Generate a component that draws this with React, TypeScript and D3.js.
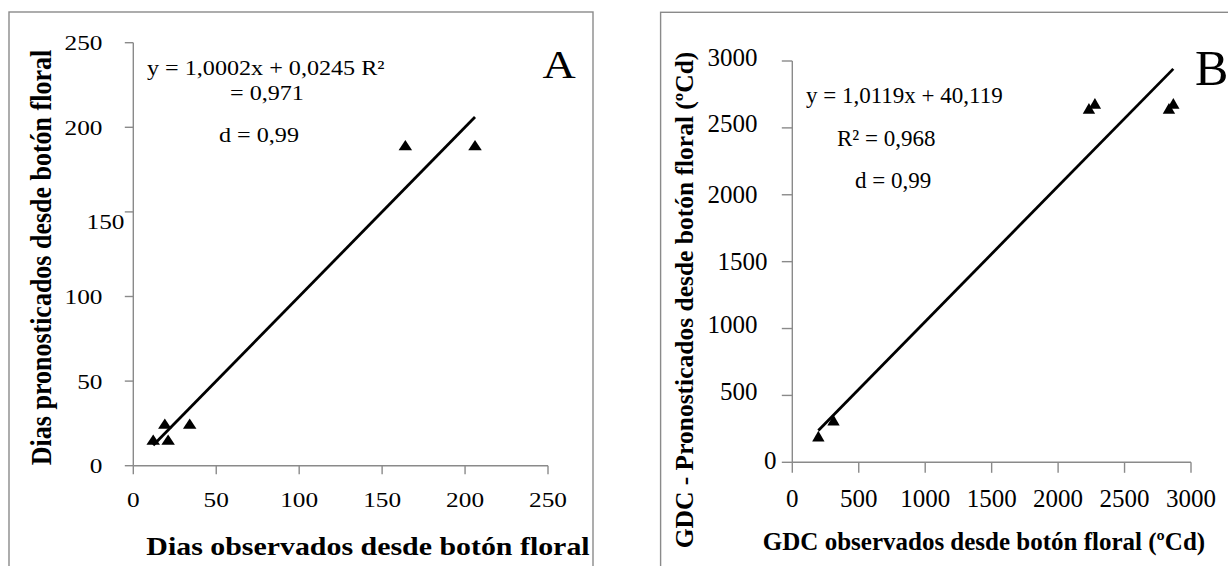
import React from "react";
import * as d3 from "d3";

// ---------- data ----------
const A_TICKS = [0, 50, 100, 150, 200, 250];
const A_OBS = [12, 19, 21, 34, 164, 206];
const A_PRED = [15, 24.5, 15, 24.5, 189, 189];
const A_SLOPE = 1.0002;
const A_INTERCEPT = 0.0245;
const A_EQ = ["y = 1,0002x + 0,0245 R²", "= 0,971", "d = 0,99"];
const A_XTITLE = "Dias observados desde botón floral";
const A_YTITLE = "Dias pronosticados desde botón floral";

const B_TICKS = [0, 500, 1000, 1500, 2000, 2500, 3000];
const B_OBS = [196, 310, 2232, 2277, 2834, 2867];
const B_PRED = [190, 310, 2640, 2677, 2640, 2677];
const B_SLOPE = 1.0119;
const B_INTERCEPT = 40.119;
const B_EQ = ["y = 1,0119x + 40,119", "R² = 0,968", "d = 0,99"];
const B_XTITLE = "GDC observados desde botón floral (ºCd)";
const B_YTITLE = "GDC - Pronosticados desde botón floral (ºCd)";

const FONT = "'Liberation Serif', 'Times New Roman', Times, serif";
const AXIS = "#8a8a8a";

type TP = {
  x: number;
  y: number;
  size: number;
  sx?: number;
  anchor?: string;
  bold?: boolean;
  rot?: boolean;
  children: React.ReactNode;
};
function T({ x, y, size, sx = 1, anchor = "start", bold, rot, children }: TP) {
  return (
    <text
      transform={`translate(${x},${y}) scale(${sx},1)${rot ? " rotate(-90)" : ""}`}
      fontFamily={FONT}
      fontSize={size}
      fontWeight={bold ? "bold" : "normal"}
      textAnchor={anchor}
      fill="#000"
    >
      {children}
    </text>
  );
}

export default function App() {
  // Panel A
  const SA = 1.15;
  const ax = d3.scaleLinear().domain([0, 250]).range([133.3, 548]);
  const ay = d3.scaleLinear().domain([0, 250]).range([465.7, 42.7]);
  // Panel B
  const bx = d3.scaleLinear().domain([0, 3000]).range([792.3, 1191]);
  const by = d3.scaleLinear().domain([0, 3000]).range([462.3, 61]);

  const tri = d3.symbol(d3.symbolTriangle, 60)() as string;
  const triB = d3.symbol(d3.symbolTriangle, 66)() as string;

  const line = d3.line<[number, number]>();
  const aMin = d3.min(A_OBS) as number;
  const aMax = d3.max(A_OBS) as number;
  const aLine = line([
    [ax(aMin), ay(A_SLOPE * aMin + A_INTERCEPT)],
    [ax(aMax), ay(A_SLOPE * aMax + A_INTERCEPT)],
  ]) as string;
  const bMin = d3.min(B_OBS) as number;
  const bMax = d3.max(B_OBS) as number;
  const bLine = line([
    [bx(bMin), by(B_SLOPE * bMin + B_INTERCEPT)],
    [bx(bMax), by(B_SLOPE * bMax + B_INTERCEPT)],
  ]) as string;

  const aNudge = (t: number) => (t === 150 ? [22, 10] : [0, 0]);
  const bNudge = (t: number) =>
    t === 0 ? [19, -2] : t === 1500 ? [10, 0] : t === 2000 ? [0, 0] : [0, -4];

  return (
    <svg
      width={1228}
      height={566}
      style={{ position: "absolute", left: 0, top: 0, background: "#fff" }}
    >
      <rect x={0} y={0} width={1228} height={566} fill="#fff" />
      {/* frames */}
      <rect x={9} y={12} width={584} height={570} fill="none" stroke={AXIS} strokeWidth={1.4} />
      <rect x={660.6} y={12.3} width={600} height={570} fill="none" stroke={AXIS} strokeWidth={1.4} />

      {/* ===== Panel A ===== */}
      <g stroke={AXIS} strokeWidth={1.4}>
        <line x1={ax(0)} x2={ax(0)} y1={ay(250)} y2={ay(0)} />
        <line x1={ax(0)} x2={ax(250)} y1={ay(0)} y2={ay(0)} />
        {A_TICKS.map((t) => (
          <line key={"ay" + t} x1={ax(0) - 8.5} x2={ax(0)} y1={ay(t)} y2={ay(t)} />
        ))}
        {A_TICKS.map((t) => (
          <line key={"ax" + t} x1={ax(t)} x2={ax(t)} y1={ay(0)} y2={ay(0) + 8.5} />
        ))}
      </g>
      {A_TICKS.map((t) => {
        const [dx, dy] = aNudge(t);
        return (
          <T key={"ayl" + t} x={102.5 + dx} y={ay(t) + 7.4 + dy} size={22} sx={SA} anchor="end">
            {t}
          </T>
        );
      })}
      {A_TICKS.map((t) => (
        <T key={"axl" + t} x={ax(t)} y={506.5} size={22} sx={SA} anchor="middle">
          {t}
        </T>
      ))}
      <path d={aLine} stroke="#000" strokeWidth={2.8} fill="none" />
      {A_OBS.map((v, i) => (
        <path
          key={"ap" + i}
          d={tri}
          transform={`translate(${ax(v)},${ay(A_PRED[i]) + 1}) scale(${SA},1)`}
          fill="#000"
        />
      ))}
      <T x={147} y={75} size={21} sx={SA}>{A_EQ[0]}</T>
      <T x={230} y={100} size={21} sx={SA}>{A_EQ[1]}</T>
      <T x={219} y={142} size={21} sx={SA}>{A_EQ[2]}</T>
      <T x={559} y={78} size={40} sx={SA} anchor="middle">A</T>
      <T x={368} y={555} size={26} sx={SA} anchor="middle" bold>{A_XTITLE}</T>
      <T x={51} y={257.5} size={26} sx={SA} anchor="middle" bold rot>{A_YTITLE}</T>

      {/* ===== Panel B ===== */}
      <g stroke={AXIS} strokeWidth={1.4}>
        <line x1={bx(0)} x2={bx(0)} y1={by(3000)} y2={by(0)} />
        <line x1={bx(0)} x2={bx(3000)} y1={by(0)} y2={by(0)} />
        {B_TICKS.map((t) => (
          <line key={"by" + t} x1={bx(0) - 10.5} x2={bx(0)} y1={by(t)} y2={by(t)} />
        ))}
        {B_TICKS.map((t) => (
          <line key={"bx" + t} x1={bx(t)} x2={bx(t)} y1={by(0)} y2={by(0) + 10.5} />
        ))}
      </g>
      {B_TICKS.map((t) => {
        const [dx, dy] = bNudge(t);
        return (
          <T key={"byl" + t} x={757.5 + dx} y={by(t) + 8.5 + dy} size={25} anchor="end">
            {t}
          </T>
        );
      })}
      {B_TICKS.map((t) => (
        <T key={"bxl" + t} x={bx(t)} y={506.5} size={25} anchor="middle">
          {t}
        </T>
      ))}
      <path d={bLine} stroke="#000" strokeWidth={2.8} fill="none" />
      {B_OBS.map((v, i) => (
        <path
          key={"bp" + i}
          d={triB}
          transform={`translate(${bx(v)},${by(B_PRED[i]) + 1})`}
          fill="#000"
        />
      ))}
      <T x={806} y={103} size={23}>{B_EQ[0]}</T>
      <T x={837} y={146} size={23}>{B_EQ[1]}</T>
      <T x={855} y={188} size={23}>{B_EQ[2]}</T>
      <T x={1195} y={85} size={50}>B</T>
      <T x={984} y={550} size={25} anchor="middle" bold>{B_XTITLE}</T>
      <T x={693} y={300} size={25.5} anchor="middle" bold rot>{B_YTITLE}</T>
    </svg>
  );
}
